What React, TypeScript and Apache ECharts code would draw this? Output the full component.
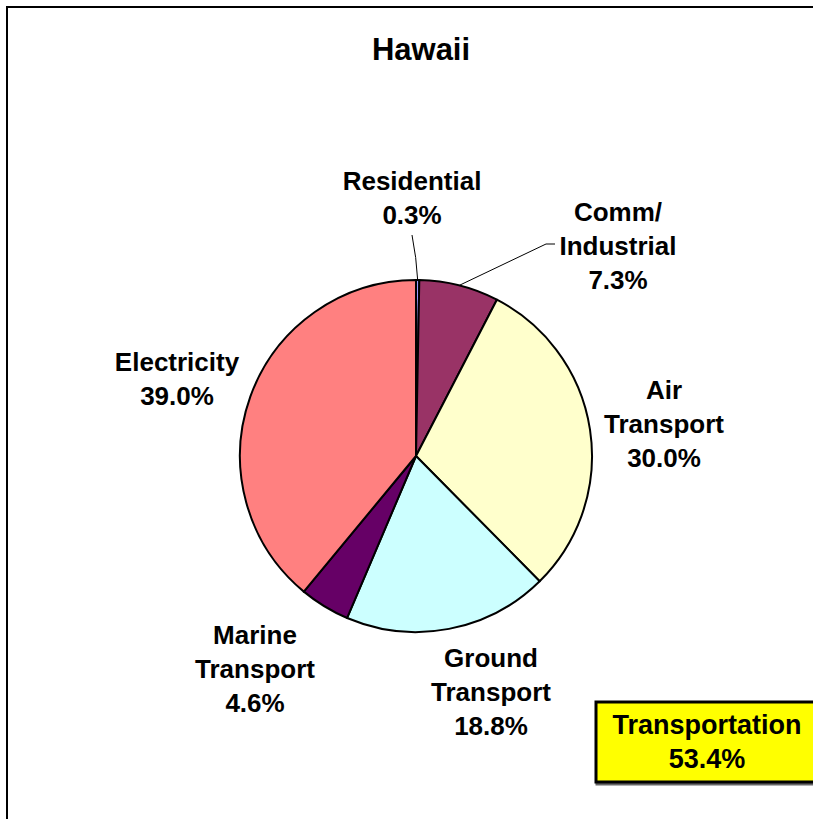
import React, { useEffect, useRef } from "react";
import * as echarts from "echarts";

const TITLE = "Hawaii";
const categories = [
  "Residential",
  "Comm/\nIndustrial",
  "Air\nTransport",
  "Ground\nTransport",
  "Marine\nTransport",
  "Electricity",
];
const values = [0.3, 7.3, 30.0, 18.8, 4.6, 39.0];
const transportIdx = [2, 3, 4];
const TRANSPORT_LABEL = "Transportation";

const COLORS = ["#9999FF", "#993366", "#FFFFCC", "#CCFFFF", "#660066", "#FF8080"];
// label block centres (layout only)
const LABEL_POS: [number, number][] = [
  [412, 198],
  [618, 246],
  [664, 424],
  [491, 692],
  [255, 669],
  [177, 379],
];
const FONT = '"Liberation Sans", Arial, sans-serif';

export default function App() {
  const ref = useRef<HTMLDivElement>(null);
  useEffect(() => {
    if (!ref.current) return;
    const chart = echarts.init(ref.current, undefined, { renderer: "svg" });
    const transport = transportIdx.reduce((s, i) => s + values[i], 0);
    const data = categories.map((name, i) => ({
      name,
      value: values[i],
      itemStyle: { color: COLORS[i] },
      labelLine: { show: i < 2 },
    }));
    chart.setOption({
      animation: false,
      backgroundColor: "#ffffff",
      title: {
        text: TITLE,
        left: 416,
        top: 29,
        textAlign: "center",
        textStyle: { fontFamily: FONT, fontWeight: "bold", fontSize: 31, color: "#000" },
      },
      graphic: [
        {
          type: "rect",
          silent: true,
          z: -10,
          shape: { x: 7, y: 7, width: 830, height: 830 },
          style: { fill: "none", stroke: "#000", lineWidth: 2 },
        },
        {
          type: "rect",
          z: 10,
          shape: { x: 596, y: 702, width: 226, height: 80 },
          style: {
            fill: "#FFFF00",
            stroke: "#000",
            lineWidth: 3,
            shadowColor: "rgba(0,0,0,0.6)",
            shadowOffsetX: 1,
            shadowOffsetY: 2,
            shadowBlur: 1,
          },
        },
        {
          type: "text",
          z: 11,
          x: 707,
          y: 742,
          style: {
            text: `${TRANSPORT_LABEL}\n${transport.toFixed(1)}%`,
            align: "center",
            verticalAlign: "middle",
            fontFamily: FONT,
            fontWeight: "bold",
            fontSize: 27,
            lineHeight: 34,
            fill: "#000",
          },
        },
      ],
      series: [
        {
          type: "pie",
          center: [416, 456],
          radius: 176,
          startAngle: 90,
          clockwise: true,
          avoidLabelOverlap: false,
          itemStyle: { borderColor: "#000", borderWidth: 2 },
          label: {
            show: true,
            position: "outside",
            formatter: (p: any) => `${p.name}\n${Number(p.value).toFixed(1)}%`,
            fontFamily: FONT,
            fontWeight: "bold",
            fontSize: 26,
            lineHeight: 34,
            color: "#000",
            align: "center",
          },
          labelLine: { show: true, lineStyle: { color: "#000", width: 1 } },
          labelLayout: (p: any) => {
            const i = p.dataIndex;
            const [x, y] = LABEL_POS[i];
            const res: any = { x, y, align: "center", verticalAlign: "middle" };
            const start = p.labelLinePoints ? p.labelLinePoints[0] : null;
            if (start && i === 0) {
              res.labelLinePoints = [start, [start[0] - 2, (start[1] + 235) / 2], [412, 235]];
            } else if (start && i === 1) {
              res.labelLinePoints = [start, [546, 244], [555, 244]];
            }
            return res;
          },
          data,
        },
      ],
    });
    return () => chart.dispose();
  }, []);
  return (
    <div
      ref={ref}
      style={{ position: "absolute", left: 0, top: 0, width: 813, height: 819 }}
    />
  );
}
